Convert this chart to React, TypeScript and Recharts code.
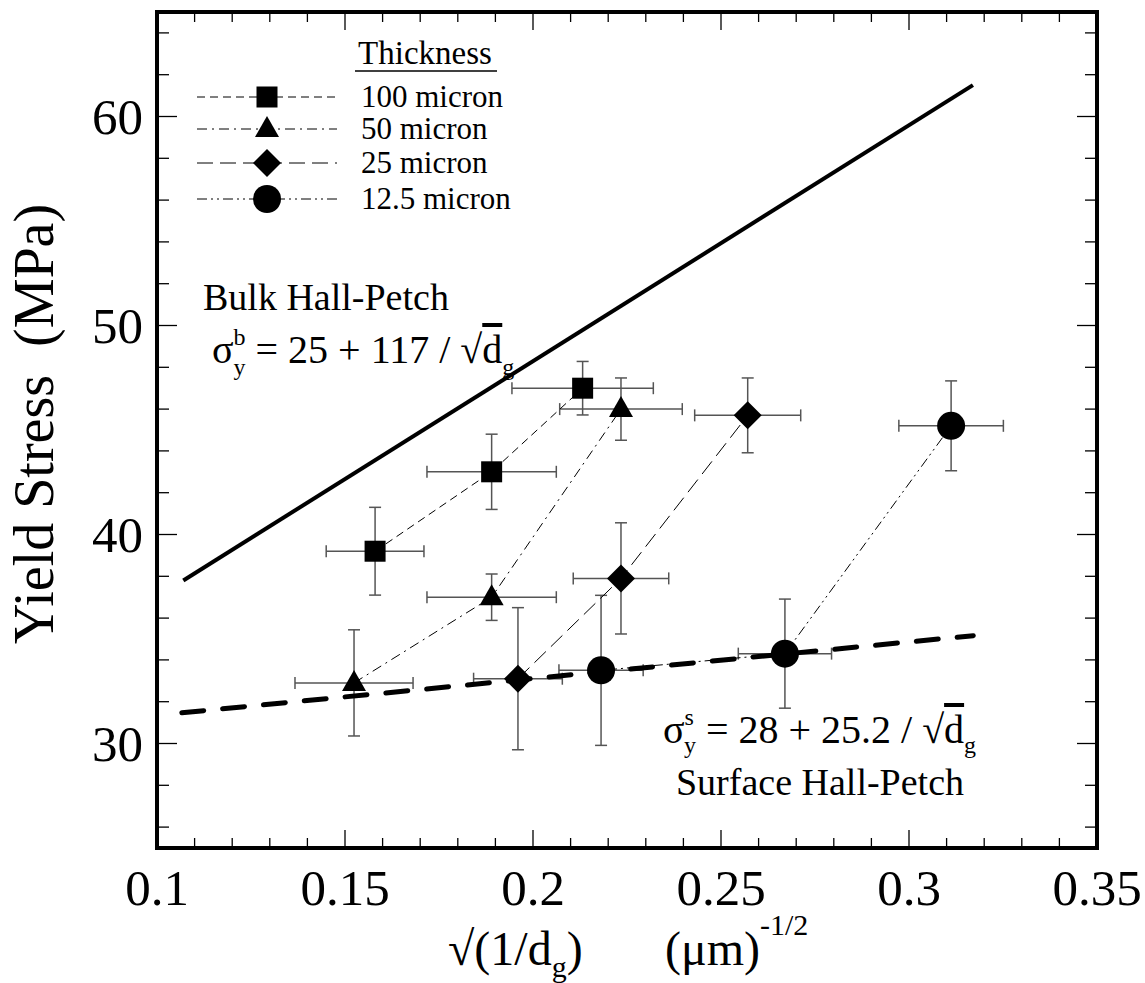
import React from 'react';
import { ComposedChart, Scatter, XAxis, YAxis, ErrorBar } from 'recharts';

// measured points: x = sqrt(1/dg), y = yield stress, ex/ey = error half-widths
const thick100 = [
  { x: 0.158, y: 39.2, ex: 0.013, ey: 2.1 },
  { x: 0.189, y: 43.0, ex: 0.0172, ey: 1.8 },
  { x: 0.2132, y: 47.0, ex: 0.0188, ey: 1.28 },
];
const thick50 = [
  { x: 0.1524, y: 32.9, ex: 0.0157, ey: 2.54 },
  { x: 0.189, y: 37.0, ex: 0.0172, ey: 1.11 },
  { x: 0.2234, y: 46.0, ex: 0.0163, ey: 1.49 },
];
const thick25 = [
  { x: 0.196, y: 33.1, ex: 0.0118, ey: 3.4 },
  { x: 0.2234, y: 37.9, ex: 0.0127, ey: 2.66 },
  { x: 0.2571, y: 45.7, ex: 0.0141, ey: 1.79 },
];
const thick125 = [
  { x: 0.2181, y: 33.5, ex: 0.0112, ey: 3.59 },
  { x: 0.267, y: 34.3, ex: 0.0124, ey: 2.61 },
  { x: 0.3112, y: 45.2, ex: 0.0139, ey: 2.15 },
];
const bulkFit = [
  { x: 0.107, y: 37.8 },
  { x: 0.317, y: 61.5 },
];
const surfaceFit = [
  { x: 0.1066, y: 31.47 },
  { x: 0.3171, y: 35.16 },
];

const xMajor = [0.1, 0.15, 0.2, 0.25, 0.3, 0.35];
const xTicks = [
  0.1, 0.11, 0.12, 0.13, 0.14, 0.15, 0.16, 0.17, 0.18, 0.19, 0.2, 0.21, 0.22, 0.23, 0.24, 0.25,
  0.26, 0.27, 0.28, 0.29, 0.3, 0.31, 0.32, 0.33, 0.34, 0.35,
];
const yMajor = [30, 40, 50, 60];
const yTicks = [26, 28, 30, 32, 34, 36, 38, 40, 42, 44, 46, 48, 50, 52, 54, 56, 58, 60, 62, 64];

const legendItems = ['100 micron', '50 micron', '25 micron', '12.5 micron'];

const FONT = "'Liberation Serif', 'Times New Roman', serif";
const ERR = '#555';

const isMajor = (list: number[], v: number) => list.some(m => Math.abs(m - v) < 1e-9);

const dashes = ['8 5', '10 5 2 5', '16 7', '10 4 2 4 2 4'];

function marker(kind: number, cx: number, cy: number) {
  if (kind === 0) return <rect x={cx - 10.5} y={cy - 10.5} width={21} height={21} fill="#000" />;
  if (kind === 1) return <polygon points={`${cx},${cy - 13} ${cx - 12},${cy + 8} ${cx + 12},${cy + 8}`} fill="#000" />;
  if (kind === 2) return <polygon points={`${cx},${cy - 14} ${cx + 14},${cy} ${cx},${cy + 14} ${cx - 14},${cy}`} fill="#000" />;
  return <circle cx={cx} cy={cy} r={14} fill="#000" />;
}

const shapeFor = (kind: number) => (p: any) => <g>{marker(kind, p.cx, p.cy)}</g>;

const XTickBottom = (p: any) => {
  const major = isMajor(xMajor, p.payload.value);
  return (
    <g>
      <line x1={p.x} x2={p.x} y1={p.y} y2={p.y - (major ? 18 : 10)} stroke="#000" strokeWidth={1.3} />
      {major && (
        <text x={p.x} y={p.y + 57} textAnchor="middle" fontSize={51} style={{ fontFamily: FONT }} fill="#000">
          {String(p.payload.value)}
        </text>
      )}
    </g>
  );
};
const XTickTop = (p: any) => {
  const major = isMajor(xMajor, p.payload.value);
  return <line x1={p.x} x2={p.x} y1={p.y} y2={p.y + (major ? 18 : 10)} stroke="#000" strokeWidth={1.3} />;
};
const YTickLeft = (p: any) => {
  const major = isMajor(yMajor, p.payload.value);
  return (
    <g>
      <line x1={p.x} x2={p.x + (major ? 20 : 12)} y1={p.y} y2={p.y} stroke="#000" strokeWidth={1.3} />
      {major && (
        <text x={p.x - 14} y={p.y + 17} textAnchor="end" fontSize={51} style={{ fontFamily: FONT }} fill="#000">
          {p.payload.value}
        </text>
      )}
    </g>
  );
};
const YTickRight = (p: any) => {
  const major = isMajor(yMajor, p.payload.value);
  return <line x1={p.x} x2={p.x - (major ? 20 : 12)} y1={p.y} y2={p.y} stroke="#000" strokeWidth={1.3} />;
};

const border = { stroke: '#000', strokeWidth: 4, strokeLinecap: 'square' as const };
const txt = { fontFamily: FONT };

export default function App() {
  const series = [thick100, thick50, thick25, thick125];
  return (
    <div style={{ position: 'absolute', top: 0, left: 0, width: 1145, height: 983, background: '#fff' }}>
      <ComposedChart width={1145} height={983} margin={{ top: 11, right: 47, bottom: 0, left: 0 }}>
        <XAxis
          xAxisId="b" dataKey="x" type="number" domain={[0.1, 0.35]} ticks={xTicks} interval={0}
          orientation="bottom" height={135} tickSize={0} tickMargin={0} tickLine={false}
          axisLine={border} tick={XTickBottom} allowDataOverflow
        />
        <XAxis
          xAxisId="t" dataKey="x" type="number" domain={[0.1, 0.35]} ticks={xTicks} interval={0}
          orientation="top" height={1} tickSize={0} tickMargin={0} tickLine={false}
          axisLine={border} tick={XTickTop} allowDataOverflow
        />
        <YAxis
          yAxisId="l" dataKey="y" type="number" domain={[25, 65]} ticks={yTicks} interval={0}
          orientation="left" width={157} tickSize={0} tickMargin={0} tickLine={false}
          axisLine={border} tick={YTickLeft} allowDataOverflow
        />
        <YAxis
          yAxisId="r" dataKey="y" type="number" domain={[25, 65]} ticks={yTicks} interval={0}
          orientation="right" width={1} tickSize={0} tickMargin={0} tickLine={false}
          axisLine={border} tick={YTickRight} allowDataOverflow
        />

        <Scatter
          xAxisId="b" yAxisId="l" data={bulkFit} dataKey="y" isAnimationActive={false}
          line={{ stroke: '#000', strokeWidth: 4 }} shape={() => <g />} legendType="none"
        />
        <Scatter
          xAxisId="b" yAxisId="l" data={surfaceFit} dataKey="y" isAnimationActive={false}
          line={{ stroke: '#000', strokeWidth: 5, strokeDasharray: '22 19', strokeLinecap: 'round' }}
          shape={() => <g />} legendType="none"
        />

        {series.map((d, i) => (
          <Scatter
            key={legendItems[i]} name={legendItems[i]} xAxisId="b" yAxisId="l" data={d} dataKey="y"
            isAnimationActive={false}
            line={{ stroke: '#000', strokeWidth: 1, strokeDasharray: dashes[i] }}
            shape={shapeFor(i)}
          >
            <ErrorBar dataKey="ex" direction="x" width={6} stroke={ERR} strokeWidth={1.5} />
            <ErrorBar dataKey="ey" direction="y" width={6} stroke={ERR} strokeWidth={1.5} />
          </Scatter>
        ))}
      </ComposedChart>

      <svg width={1145} height={983} style={{ position: 'absolute', top: 0, left: 0, pointerEvents: 'none' }}>
        {/* legend */}
        <text x={425} y={64} textAnchor="middle" fontSize={33} style={txt}>Thickness</text>
        <line x1={355} x2={497} y1={71} y2={71} stroke="#000" strokeWidth={1.5} />
        {legendItems.map((name, i) => {
          const cy = [97, 129, 163, 199][i];
          return (
            <g key={name}>
              <line x1={197} x2={337} y1={cy} y2={cy} stroke="#000" strokeWidth={1} strokeDasharray={dashes[i]} />
              {marker(i, 267, cy)}
              <text x={361} y={cy + 10} fontSize={31} style={txt}>{name}</text>
            </g>
          );
        })}

        {/* bulk fit label */}
        <text x={203} y={310} fontSize={38} style={txt}>Bulk Hall-Petch</text>
        <text x={212} y={363} fontSize={40} style={txt}>
          σ<tspan fontSize={24} dy={-18}>b</tspan>
          <tspan fontSize={24} dx={-12} dy={30}>y</tspan>
          <tspan dy={-12}>{' = 25 + 117 / √'}</tspan>
          <tspan style={{ textDecoration: 'overline' }}>d</tspan>
          <tspan fontSize={24} dy={12}>g</tspan>
        </text>

        {/* surface fit label */}
        <text x={663} y={743} fontSize={40} style={txt}>
          σ<tspan fontSize={24} dy={-18}>s</tspan>
          <tspan fontSize={24} dx={-10} dy={28}>y</tspan>
          <tspan dy={-10}>{' = 28 + 25.2 / √'}</tspan>
          <tspan style={{ textDecoration: 'overline' }}>d</tspan>
          <tspan fontSize={24} dy={10}>g</tspan>
        </text>
        <text x={820} y={795} textAnchor="middle" fontSize={38} style={txt}>Surface Hall-Petch</text>

        {/* axis titles */}
        <text x={448} y={965} fontSize={48} style={txt}>
          √(1/d<tspan fontSize={30} dy={12}>g</tspan><tspan dy={-12}>)</tspan>
        </text>
        <text x={665} y={965} fontSize={48} style={txt}>
          (μm)<tspan fontSize={30} dy={-30}>-1/2</tspan>
        </text>
        <text
          x={53} y={424} transform="rotate(-90 53 424)" textAnchor="middle" fontSize={56}
          style={{ fontFamily: FONT, whiteSpace: 'pre' }}
        >
          {'Yield Stress  (MPa)'}
        </text>
      </svg>
    </div>
  );
}
